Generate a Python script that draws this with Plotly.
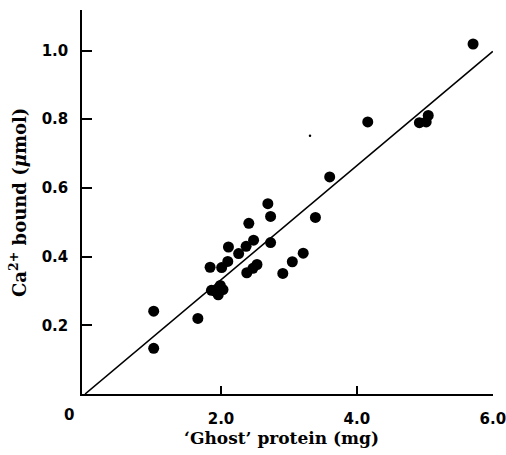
import plotly.graph_objects as go

# Data
protein_mg = [5.71, 4.16, 4.92, 5.02, 5.05, 3.60, 3.39, 3.21, 3.05, 2.91,
              2.69, 2.73, 2.73, 2.41, 2.48, 2.37, 2.26, 2.11, 2.10, 2.01,
              1.84, 2.38, 2.47, 2.53, 1.86, 1.99, 2.03, 1.96, 1.92, 1.66,
              1.01, 1.01]
ca_bound = [1.019, 0.792, 0.790, 0.792, 0.811, 0.632, 0.514, 0.410, 0.385, 0.351,
            0.554, 0.517, 0.441, 0.497, 0.448, 0.430, 0.409, 0.428, 0.386, 0.368,
            0.369, 0.353, 0.366, 0.377, 0.302, 0.316, 0.304, 0.289, 0.299, 0.220,
            0.241, 0.133]
fit_x = [0.0, 6.0]
fit_slope = 0.1663
fit_y = [fit_slope * v for v in fit_x]
x_ticks = [2.0, 4.0, 6.0]
x_tick_labels = ["2.0", "4.0", "6.0"]
y_ticks = [0.2, 0.4, 0.6, 0.8, 1.0]
y_tick_labels = ["0.2", "0.4", "0.6", "0.8", "1.0"]

serif = "DejaVu Serif, Liberation Serif, serif"
sans = "DejaVu Sans, sans-serif"

fig = go.Figure()
fig.add_trace(go.Scatter(x=fit_x, y=fit_y, mode="lines",
                         line=dict(color="black", width=1.6), showlegend=False,
                         hoverinfo="skip", cliponaxis=False))
fig.add_trace(go.Scatter(x=protein_mg, y=ca_bound, mode="markers",
                         marker=dict(color="black", size=11, line=dict(width=0)),
                         showlegend=False))
# small speck visible in the original scan
fig.add_trace(go.Scatter(x=[3.31], y=[0.752], mode="markers",
                         marker=dict(color="black", size=2.5), showlegend=False,
                         hoverinfo="skip"))

tickfont = dict(family=sans, size=15, color="black", weight="bold")
titlefont = dict(family=serif, size=17, color="black", weight="bold")

fig.update_layout(
    width=506, height=455,
    margin=dict(l=82, r=13, t=10, b=61),
    paper_bgcolor="white", plot_bgcolor="white",
    font=dict(family=serif, color="black"),
    xaxis=dict(range=[-0.045, 6.003], tickvals=x_ticks, ticktext=x_tick_labels,
               ticks="inside", ticklen=8, tickwidth=1.5, tickcolor="black",
               showline=True, linecolor="black", linewidth=1.5,
               showgrid=False, zeroline=False, ticklabelstandoff=10,
               ticklabeloverflow="allow", automargin=False, tickfont=tickfont),
    yaxis=dict(range=[0, 1.118], tickvals=y_ticks, ticktext=y_tick_labels,
               ticks="inside", ticklen=10, tickwidth=1.5, tickcolor="black",
               showline=True, linecolor="black", linewidth=1.5,
               showgrid=False, zeroline=False, ticklabelstandoff=9,
               automargin=False, tickfont=tickfont),
    annotations=[
        dict(text="0", x=(69 - 82) / 411, y=(394 - 415) / 384,
             xref="paper", yref="paper", showarrow=False, font=tickfont,
             xanchor="center", yanchor="middle"),
        dict(text="\u2018Ghost\u2019 protein (mg)", x=(281 - 82) / 411, y=(394 - 438) / 384,
             xref="paper", yref="paper", showarrow=False, font=titlefont,
             xanchor="center", yanchor="middle"),
        dict(text="Ca<sup>2+</sup> bound (<i>\u03bc</i>mol)", x=(18 - 82) / 411,
             y=(394 - 203) / 384, xref="paper", yref="paper", showarrow=False,
             textangle=-90, font=dict(family=serif, size=18, color="black", weight="bold"),
             xanchor="center", yanchor="middle"),
    ],
)

fig.write_html("out.html")
